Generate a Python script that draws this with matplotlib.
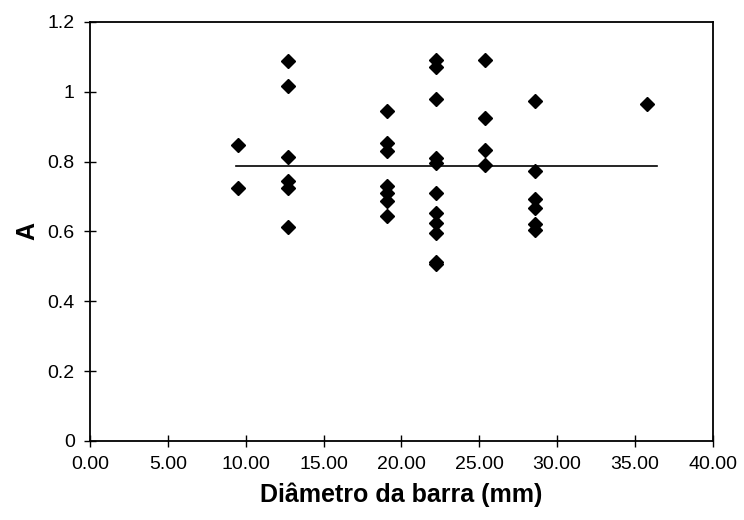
import matplotlib
matplotlib.use('Agg')
import matplotlib.pyplot as plt
from matplotlib.ticker import FormatStrFormatter

plt.rcParams['font.family'] = ['Liberation Sans', 'DejaVu Sans']

# bar diameter (mm) and measured A values for each diameter
diametros = [9.5, 12.7, 19.05, 22.2, 25.4, 28.6, 35.8]
valores_a = [
    [0.848, 0.725],
    [1.089, 1.015, 0.813, 0.745, 0.725, 0.614],
    [0.944, 0.853, 0.829, 0.729, 0.710, 0.686, 0.645],
    [1.092, 1.070, 0.980, 0.810, 0.797, 0.711, 0.654, 0.624, 0.595, 0.512, 0.506],
    [1.092, 0.926, 0.834, 0.791],
    [0.972, 0.772, 0.693, 0.667, 0.622, 0.605],
    [0.965],
]
# mean line
media_x = [9.4, 36.4]
media_a = [0.788, 0.788]

x_ticks = [0, 5, 10, 15, 20, 25, 30, 35, 40]
y_ticks = [0, 0.2, 0.4, 0.6, 0.8, 1.0, 1.2]

xs = [d for d, vals in zip(diametros, valores_a) for _ in vals]
ys = [v for vals in valores_a for v in vals]

fig = plt.figure(figsize=(7.44, 5.2), dpi=100)
ax = fig.add_axes([0.121, 0.152, 0.837, 0.806])

ax.plot(media_x, media_a, color='k', lw=1.2, zorder=2)
ax.plot(xs, ys, linestyle='none', marker='D', markersize=7,
        color='k', zorder=3)

ax.set_xlim(0, 40)
ax.set_ylim(0, 1.2)
ax.set_xticks(x_ticks)
ax.set_yticks(y_ticks)
ax.xaxis.set_major_formatter(FormatStrFormatter('%.2f'))
ax.set_yticklabels(['0', '0.2', '0.4', '0.6', '0.8', '1', '1.2'])

ax.tick_params(direction='inout', length=8, width=1, labelsize=14,
               pad=7, color='k')
ax.tick_params(axis='x', pad=7)
for s in ax.spines.values():
    s.set_linewidth(1.3)
    s.set_color('k')

ax.set_xlabel('Diâmetro da barra (mm)', fontsize=18, fontweight='bold',
              labelpad=7)
ax.set_ylabel('A', fontsize=18, fontweight='bold', labelpad=6)

fig.savefig('out.png', dpi=100)
